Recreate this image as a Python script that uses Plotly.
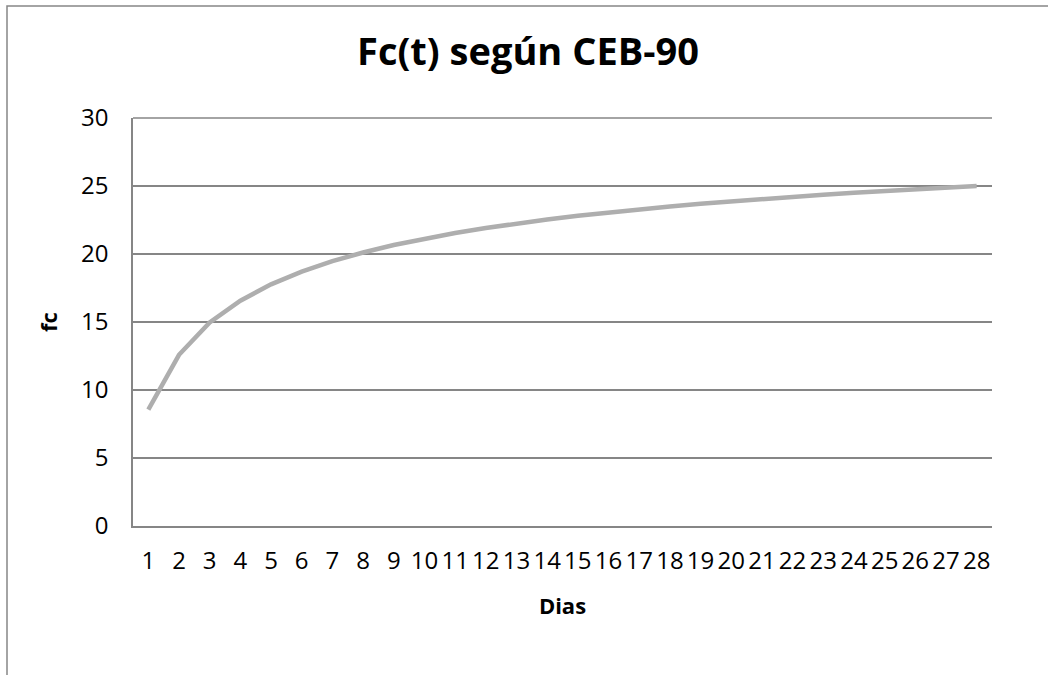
import plotly.graph_objects as go

dias = list(range(1, 29))
fc = [8.55, 12.59, 14.96, 16.57, 17.77, 18.70, 19.47, 20.11, 20.66, 21.13,
      21.54, 21.91, 22.24, 22.54, 22.81, 23.06, 23.29, 23.50, 23.70, 23.88,
      24.05, 24.21, 24.36, 24.50, 24.64, 24.77, 24.89, 25.00]
y_ticks = [0, 5, 10, 15, 20, 25, 30]

W, H = 1048, 675
L, R, T, B = 133, 56, 118, 149
pw, ph = W - L - R, H - T - B

def px(x):
    return (x - L) / pw

def py(y):
    return (H - B - y) / ph

FONT = "Open Sans"
GRID = "#868686"

fig = go.Figure()
fig.add_trace(go.Scatter(x=dias, y=fc, mode="lines",
                         line=dict(color="#AEAEAE", width=4.5),
                         hoverinfo="x+y", showlegend=False))

fig.update_layout(
    width=W, height=H,
    margin=dict(l=L, r=R, t=T, b=B),
    paper_bgcolor="white", plot_bgcolor="white",
    font=dict(family=FONT, color="black"),
    title=dict(text="<b>Fc(t) según CEB-90</b>", x=px(528), xref="paper",
               xanchor="center", y=1 - 52 / H, yanchor="middle",
               font=dict(size=38, family=FONT, color="black")),
    xaxis=dict(range=[0.5, 28.5], tickmode="array", tickvals=dias,
               ticktext=[str(d) for d in dias], tickangle=0,
               showgrid=False, zeroline=False,
               showline=True, linecolor=GRID, linewidth=1.5,
               ticks="outside", ticklen=12, tickcolor="rgba(0,0,0,0)",
               tickfont=dict(size=24, family=FONT),
               title=dict(text="<b>Dias</b>", font=dict(size=22, family=FONT),
                          standoff=24)),
    yaxis=dict(range=[0, 30], tickmode="array", tickvals=y_ticks,
               showgrid=True, gridcolor=GRID, gridwidth=1.5,
               zeroline=False, showline=True, linecolor=GRID, linewidth=1.5,
               ticks="outside", ticklen=18, tickcolor="rgba(0,0,0,0)",
               tickfont=dict(size=24, family=FONT),
               title=dict(text="<b>fc</b>", font=dict(size=22, family=FONT),
                          standoff=17)),
    shapes=[
        dict(type="path", xref="paper", yref="paper",
             path=f"M {px(7)} {py(H + 5)} L {px(7)} {py(6)} L {px(W + 5)} {py(6)}",
             line=dict(color=GRID, width=1.5)),
        dict(type="line", xref="paper", yref="paper",
             x0=0, x1=1, y0=1, y1=1, line=dict(color=GRID, width=1.5)),
    ],
)

fig.write_html("out.html")
